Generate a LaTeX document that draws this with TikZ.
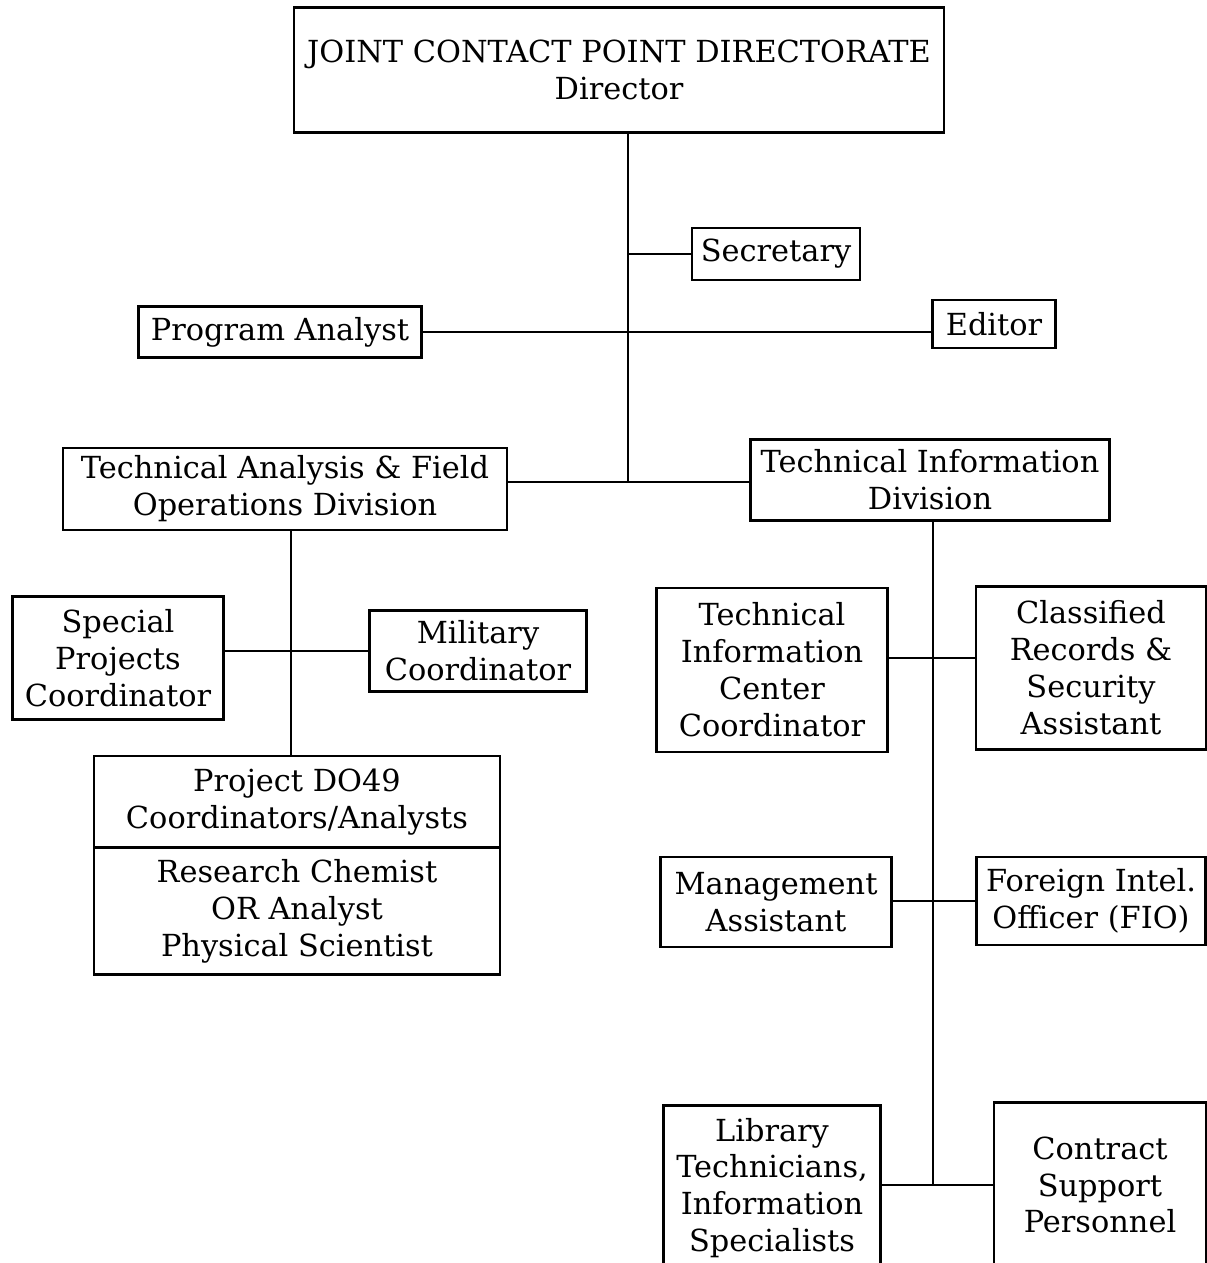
\documentclass[tikz,border=0pt]{standalone}
\usepackage{fontspec}
\setmainfont{DejaVu Serif}
\usepackage{tikz}
\tikzset{
    base/.style={draw, line width=1.5pt, rectangle, align=center, inner sep=2pt,
        font=\fontsize{17.3}{21}\selectfont},
    link/.style={line width=1.4pt}
}
\begin{document}
\begin{tikzpicture}[x=0.02cm, y=-0.02cm]
\useasboundingbox (0,0) rectangle (1206,1263);
\node[base, minimum width=13cm, minimum height=2.5cm] (dir) at (619,70) {JOINT CONTACT POINT DIRECTORATE\\Director};
\node[base, minimum width=3.36cm, minimum height=1.04cm] (sec) at (776,254) {Secretary};
\node[base, minimum width=5.66cm, minimum height=1.02cm] (pa) at (280,332) {Program Analyst};
\node[base, minimum width=2.46cm, minimum height=0.96cm] (ed) at (994,324) {Editor};
\node[base, minimum width=8.88cm, minimum height=1.64cm] (tafo) at (285,489) {Technical Analysis \& Field\\Operations Division};
\node[base, minimum width=7.18cm, minimum height=1.62cm] (tid) at (930,480) {Technical Information\\Division};
\node[base, minimum width=4.22cm, minimum height=2.46cm] (spc) at (118,658) {Special\\Projects\\Coordinator};
\node[base, minimum width=4.34cm, minimum height=1.62cm] (mil) at (478,651) {Military\\Coordinator};
\node[base, minimum width=8.12cm, minimum height=1.84cm] (projA) at (297,802) {Project DO49\\Coordinators/Analysts};
\node[base, minimum width=8.12cm, minimum height=2.54cm] (projB) at (297,911) {Research Chemist\\OR Analyst\\Physical Scientist};
\node[base, minimum width=4.62cm, minimum height=3.28cm] (ticc) at (772,670) {Technical\\Information\\Center\\Coordinator};
\node[base, minimum width=4.6cm, minimum height=3.26cm] (crs) at (1091,668) {Classified\\Records \&\\Security\\Assistant};
\node[base, minimum width=4.62cm, minimum height=1.8cm] (mgmt) at (776,902) {Management\\Assistant};
\node[base, minimum width=4.58cm, minimum height=1.76cm] (fio) at (1091,901) {Foreign Intel.\\Officer (FIO)};
\node[base, minimum width=4.34cm, minimum height=3.3cm] (lib) at (772,1188) {Library\\Technicians,\\Information\\Specialists};
\node[base, minimum width=4.24cm, minimum height=3.3cm] (csp) at (1100,1185) {Contract\\Support\\Personnel};
% junctions
\coordinate (trunk) at (628,482);
\coordinate (tafobus) at (291,651);
\coordinate (tidbus) at (933,1185);
\coordinate (ticcbus) at (933,658);
\coordinate (mgmtbus) at (933,901);
\draw[link] (dir.south -| trunk) -- (trunk);
\draw[link] (sec.west) -- (sec.west -| trunk);
\draw[link] (pa.east) -- (pa.east -| ed.west);
\draw[link] (tafo.east |- trunk) -- (tid.west |- trunk);
\draw[link] (tafo.south -| tafobus) -- (projA.north -| tafobus);
\draw[link] (spc.east |- tafobus) -- (mil.west |- tafobus);
\draw[link] (tid.south -| tidbus) -- (tidbus);
\draw[link] (ticc.east |- ticcbus) -- (crs.west |- ticcbus);
\draw[link] (mgmt.east |- mgmtbus) -- (fio.west |- mgmtbus);
\draw[link] (lib.east |- tidbus) -- (csp.west |- tidbus);
\end{tikzpicture}
\end{document}
